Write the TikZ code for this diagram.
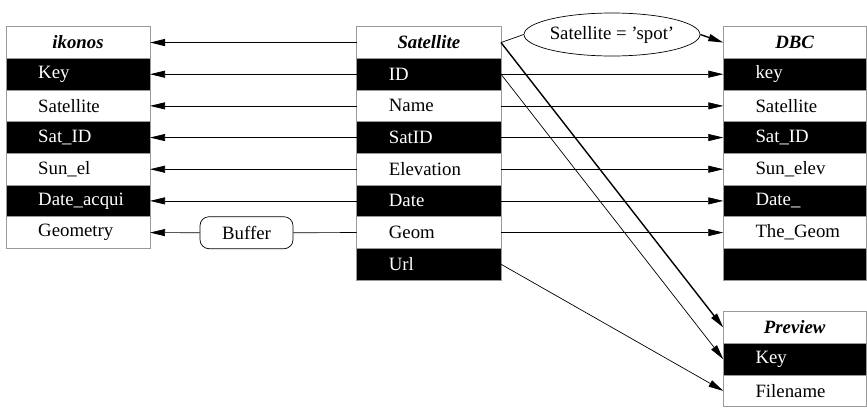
\documentclass[tikz,border=0pt]{standalone}
\usepackage{fontspec}
\setmainfont{Liberation Serif}
\usetikzlibrary{arrows.meta,shapes.geometric,positioning}
\newcommand\mytable[6]{% name, x, y, width, header, fields
  \node[cell=#4, fill=white, font=\fontsize{18.8}{22}\selectfont\bfseries\itshape] (#1-0) at (#2,#3) {#5};
  \foreach \t [count=\i] in {#6} {
    \ifodd\i
      \node[cell=#4, fill=black, below=0pt of #1-\the\numexpr\i-1\relax.south west, anchor=north west] (#1-\i) {};
      \node[anchor=west, text=white, inner sep=0pt] (#1-\i-t) at ([xshift=32pt]#1-\i.west) {\t};
    \else
      \node[cell=#4, fill=white, below=0pt of #1-\the\numexpr\i-1\relax.south west, anchor=north west] (#1-\i) {};
      \node[anchor=west, text=black, inner sep=0pt] (#1-\i-t) at ([xshift=32pt]#1-\i.west) {\t};
    \fi
  }
}
\begin{document}
\begin{tikzpicture}[x=1pt,y=-1pt,
  font=\fontsize{18.8}{22}\selectfont,
  cell/.style={draw=gray!80, line width=0.8pt, minimum width=#1, minimum height=31.67pt,
    inner sep=0pt, outer sep=0pt, anchor=north west},
  arr/.style={line width=0.7pt, -{Triangle[length=15pt,width=7pt]}},
  harr/.style={line width=1.4pt, -{Triangle[length=15pt,width=7pt]}},
  ln/.style={line width=0.7pt},
]
\useasboundingbox (0,0) rectangle (867,408);
\mytable{ik}{6}{26.7}{144pt}{ikonos}{Key,Satellite,Sat\_ID,Sun\_el,Date\_acqui,Geometry}
\mytable{sat}{356.7}{26.7}{144.3pt}{Satellite}{ID,Name,SatID,Elevation,Date,Geom,Url}
\mytable{dbc}{723.3}{26.7}{142.7pt}{DBC}{key,Satellite,Sat\_ID,Sun\_elev,Date\_,The\_Geom,{}}
\mytable{pv}{723.3}{311.7}{142.7pt}{Preview}{Key,Filename}

\node[draw, ellipse, line width=0.7pt, minimum width=160pt, minimum height=43pt, inner sep=0pt] (sel) at (612,34.5) {Satellite = 'spot'};
\node[draw, rounded corners=9pt, line width=0.7pt, minimum width=93pt, minimum height=32pt, inner sep=0pt] (buf) at (246.5,232.7) {Buffer};

\draw[harr] (sat-0.west) -- (ik-0.east);
\foreach \a/\b in {1/1,2/2,3/3,4/4,5/5} {
  \draw[arr] (sat-\a.west) -- (ik-\b.east);
}
\draw[ln] (sat-6.west) -- (buf.east);
\draw[arr] (buf.west) -- (ik-6.east);
\foreach \a in {1,...,6} {
  \draw[arr] (sat-\a.east) -- (dbc-\a.west);
}
\draw[ln] (sat-0.east) -- (sel.west);
\draw[harr] (sel.east) -- (dbc-0.west);
\draw[harr] (sat-0.east) -- (pv-0.west);
\draw[arr] (sat-1.east) -- (pv-1.west);
\draw[arr] (sat-7.east) -- (pv-2.west);
\end{tikzpicture}
\end{document}
